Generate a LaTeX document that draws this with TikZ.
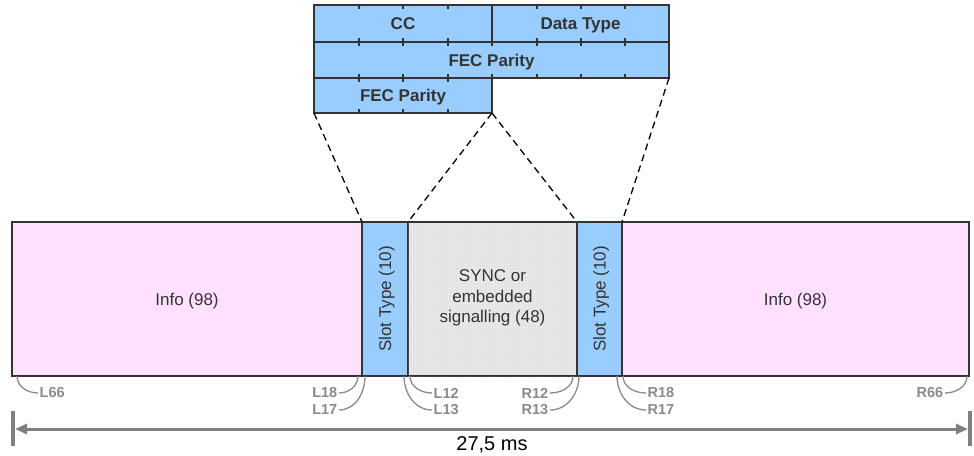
\documentclass[tikz,border=0pt]{standalone}
\usepackage{fontspec}
\setmainfont{Liberation Sans}
\usetikzlibrary{arrows.meta,patterns}
\definecolor{pinkfill}{HTML}{FFE0FF}
\definecolor{bluefill}{HTML}{99CCFF}
\definecolor{greyfill}{HTML}{E8E8E8}
\definecolor{dotcol}{HTML}{C4C4C4}
\definecolor{txt}{HTML}{333333}
\definecolor{lbl}{HTML}{8A8A8A}
\definecolor{arr}{HTML}{808080}
\begin{document}
\begin{tikzpicture}[x=1pt,y=-1pt,
  seg/.style={draw=txt, line width=1.2pt, inner sep=0pt, outer sep=0pt, anchor=north west,
    text=txt, font=\fontsize{17}{20.5}\selectfont, align=center},
  cell/.style={seg, fill=bluefill, font=\bfseries\fontsize{17}{20}\selectfont, text height=12.2pt, text depth=0pt},
  tick/.style={draw=txt, line width=1.2pt},
  lab/.style={text=lbl, font=\bfseries\fontsize{14.5}{14.5}\selectfont, inner sep=1.5pt},
  lead/.style={draw=lbl, line width=1.3pt},
  zoomline/.style={draw=black, line width=1.3pt, dash pattern=on 7pt off 4.5pt},
  vtext/.style={rotate=90, text=txt, font=\fontsize{17}{20}\selectfont, text height=12.2pt, text depth=0pt}]
\useasboundingbox (0,0) rectangle (974,455);

% top table
\node[cell, minimum width=178pt, minimum height=37pt] (cc) at (314,5) {CC};
\node[cell, minimum width=177pt, minimum height=37pt] (dt) at (492,5) {Data Type};
\node[cell, minimum width=355pt, minimum height=36pt] (fec1) at (314,42) {FEC Parity};
\node[cell, minimum width=178pt, minimum height=35pt] (fec2) at (314,78) {FEC Parity};
% ticks
\foreach \x in {359,403,448,537,581,625} {
  \draw[tick] (\x,5) -- (\x,9); \draw[tick] (\x,42) -- (\x,38);
}
\foreach \x in {359,403,448,537,581,625} {
  \draw[tick] (\x,42) -- (\x,46); \draw[tick] (\x,78) -- (\x,74);
}
\draw[tick] (492,42) -- (492,46); \draw[tick] (492,78) -- (492,74);
\foreach \x in {359,403,448} {
  \draw[tick] (\x,78) -- (\x,82); \draw[tick] (\x,113) -- (\x,109);
}

% main bar
\node[seg, fill=pinkfill, minimum width=350pt, minimum height=154pt, text height=12.2pt, text depth=0pt] (infoL) at (12,222) {Info (98)};
\node[seg, fill=bluefill, minimum width=46pt, minimum height=154pt] (slot1) at (362,222) {};
\node[seg, fill=greyfill, postaction={pattern=dots, pattern color=dotcol}, minimum width=169pt, minimum height=154pt] (sync) at (408,222) {};
\node[align=center, text=txt, font=\fontsize{17}{20.5}\selectfont, yshift=1pt] (synct) at (sync.center) {SYNC or\\embedded\\signalling (48)};
\node[seg, fill=bluefill, minimum width=45pt, minimum height=154pt] (slot2) at (577,222) {};
\node[seg, fill=pinkfill, minimum width=347pt, minimum height=154pt, text height=12.2pt, text depth=0pt] (infoR) at (622,222) {Info (98)};
\node[vtext] (slot1t) at (slot1.center) {Slot Type (10)};
\node[vtext] (slot2t) at (slot2.center) {Slot Type (10)};

% zoom lines
\draw[zoomline] (fec2.south west) -- (slot1.north west);
\draw[zoomline] (fec2.south east) -- (sync.north west);
\draw[zoomline] (fec2.south east) -- (sync.north east);
\draw[zoomline] (fec1.south east) -- (slot2.north east);

% bit labels
\node[lab, anchor=west] (l66) at (38,393) {L66};
\node[lab, anchor=east] (l18) at (339,393) {L18};
\node[lab, anchor=east] (l17) at (339,410) {L17};
\node[lab, anchor=west] (l12) at (432,393) {L12};
\node[lab, anchor=west] (l13) at (432,410) {L13};
\node[lab, anchor=east] (r12) at (550,393) {R12};
\node[lab, anchor=east] (r13) at (550,410) {R13};
\node[lab, anchor=west] (r18) at (646,393) {R18};
\node[lab, anchor=west] (r17) at (646,410) {R17};
\node[lab, anchor=east] (r66) at (945,393) {R66};

\coordinate (p66) at (17,376);
\coordinate (p18) at (358,376);
\coordinate (p17) at (365,376);
\coordinate (p12) at (410,376);
\coordinate (p13) at (404,376);
\coordinate (q12) at (573,376);
\coordinate (q13) at (579,376);
\coordinate (q18) at (623,376);
\coordinate (q17) at (617,376);
\coordinate (q66) at (967,376);

\draw[lead] (p66) to[out=-90,in=180] (l66.west);
\draw[lead] (p18) to[out=-90,in=0] (l18.east);
\draw[lead] (p17) to[out=-90,in=0] (l17.east);
\draw[lead] (p12) to[out=-90,in=180] (l12.west);
\draw[lead] (p13) to[out=-90,in=180] (l13.west);
\draw[lead] (q12) to[out=-90,in=0] (r12.east);
\draw[lead] (q13) to[out=-90,in=0] (r13.east);
\draw[lead] (q18) to[out=-90,in=180] (r18.west);
\draw[lead] (q17) to[out=-90,in=180] (r17.west);
\draw[lead] (q66) to[out=-90,in=0] (r66.east);

% duration arrow
\coordinate (eL1) at (13,411);
\coordinate (eL2) at (13,446);
\coordinate (eR1) at (970,411);
\coordinate (eR2) at (970,446);
\coordinate (aL) at (15,429);
\coordinate (aR) at (968,429);
\draw[arr, line width=4pt] (eL1) -- (eL2);
\draw[arr, line width=4pt] (eR1) -- (eR2);
\draw[arr, line width=3pt, {Triangle[length=12pt,width=10pt]}-{Triangle[length=12pt,width=10pt]}] (aL) -- (aR);
\node[font=\fontsize{20}{20}\selectfont, text=black, inner sep=2pt] (dur) at (492,445) {27,5 ms};
\end{tikzpicture}
\end{document}
